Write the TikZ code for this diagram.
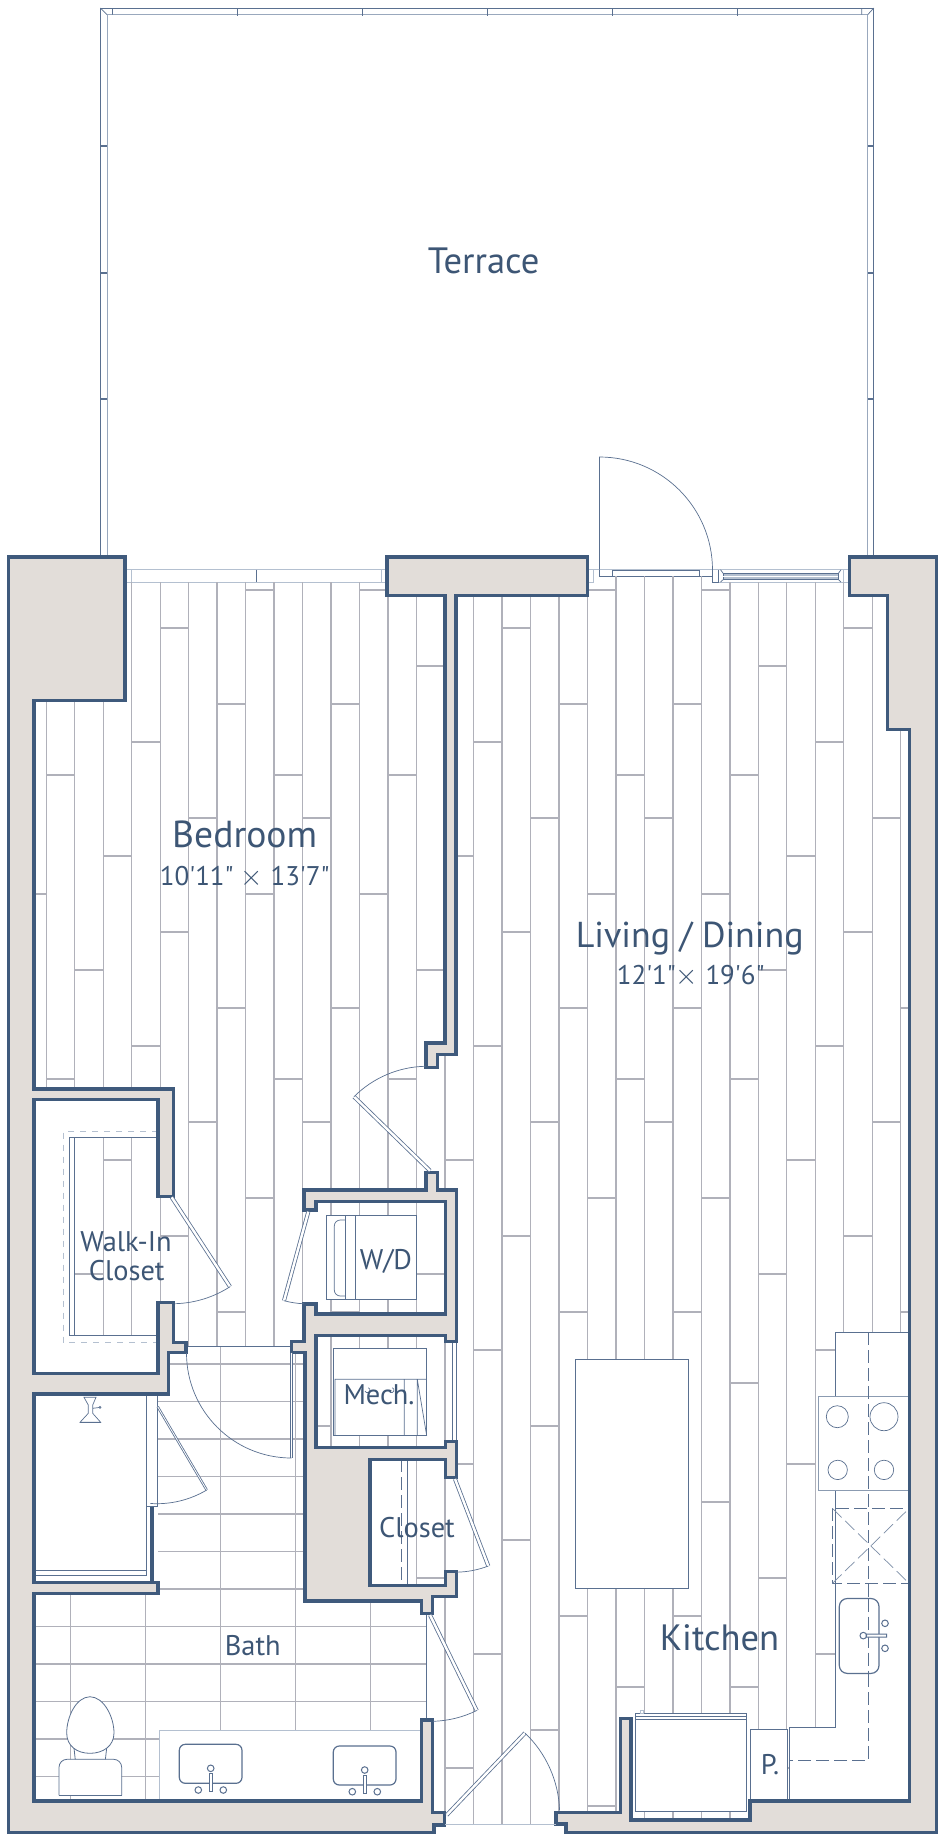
\documentclass[tikz,border=0pt]{standalone}
\usepackage{fontspec}
\setmainfont{PT Sans}[Ligatures=TeXOff]
\definecolor{wallblue}{HTML}{3F5A7C}
\definecolor{wallfill}{HTML}{E2DDD9}
\definecolor{thinblue}{HTML}{5A7090}
\definecolor{paleblue}{HTML}{B4C0D0}
\definecolor{plankgray}{HTML}{B0B1BA}
\definecolor{labelblue}{HTML}{3D5675}
\tikzset{
    wall line/.style={draw=wallblue,fill=wallfill,line width=1.75pt,miter limit=10},
    thin line/.style={draw=thinblue,line width=0.35pt},
    pale line/.style={draw=paleblue,line width=0.7pt},
    plank line/.style={draw=plankgray,line width=0.7pt},
    joint line/.style={draw=plankgray,line width=0.6pt},
    door leaf/.style={draw=thinblue,line width=0.4pt,double=white,double distance=1.2pt},
    fixture line/.style={draw=thinblue,line width=0.4pt,fill=white},
    dash line/.style={draw=thinblue,line width=0.45pt,dash pattern=on 6.5pt off 2.5pt},
    room label/.style={anchor=base,text=labelblue,inner sep=0pt,font=\fontsize{18.3}{20}\selectfont},
    small label/.style={anchor=base,text=labelblue,inner sep=0pt,font=\fontsize{14.2}{16}\selectfont},
    size label/.style={anchor=base,text=labelblue,inner sep=0pt,font=\fontsize{13.5}{15}\selectfont}
    }
\newcommand{\plankfloor}{%
    \foreach \col/\first in {-1/590,0/775,1/666,2/856,3/742,4/628,5/818,6/704,7/590,8/775,
        9/818,10/704,11/590,12/775,13/666,14/856,15/742,16/628,17/818,18/704,19/590,20/775,
        21/818,22/704,23/590,24/775,25/666,26/856,27/742,28/628,29/818,30/704}{
        \pgfmathsetmacro{\xl}{46.3+28.48*\col}
        \pgfmathsetmacro{\xr}{\xl+28.48}
        \draw[plank line] (\xl,560) -- (\xl,1830);
        \foreach \n in {0,...,4}{
            \pgfmathsetmacro{\yj}{\first+304*\n}
            \draw[joint line] (\xl,\yj) -- (\xr,\yj);
        }
    }%
}
\newcommand{\bathoutline}{(187,1346) -- (291.7,1346) -- (291.7,1352.7) -- (305,1352.7) -- (305,1601)
    -- (421.7,1601) -- (421.7,1613) -- (426.7,1613) -- (426.7,1720) -- (421.7,1720) -- (421.7,1801)
    -- (34,1801) -- (34,1593) -- (157.7,1593) -- (157.7,1394) -- (168.3,1394) -- (168.3,1352.7)
    -- (187,1352.7) -- cycle}

\begin{document}
\begin{tikzpicture}[x=0.5pt,y=-0.5pt]
    \useasboundingbox (0,0) rectangle (943,1838);
    \fill[white] (0,0) rectangle (943,1838);
    % Terrace railing
    \draw[thin line] (100.4,557) -- (100.4,8) -- (873.8,8) -- (873.8,557);
    \draw[thin line,draw=paleblue!70!thinblue] (107,557) -- (107,14.6) -- (867.8,14.6) -- (867.8,557);
    \draw[thin line] (100.4,8) -- (107,14.6) (873.8,8) -- (867.8,14.6)
        (112.4,8) -- (112.4,14.6) (861.7,8) -- (861.7,14.6);
    \foreach \xt in {237,362,487,612,737}{
        \draw[thin line,line width=0.5pt] (\xt,8) -- (\xt,16);
    }
    \foreach \yt in {146,273,399}{
        \draw[thin line,line width=0.6pt] (100.4,\yt) -- (107,\yt) (867.8,\yt) -- (873.8,\yt);
    }
    % Windows and terrace door
    \draw[pale line] (126,569.7) -- (849,569.7);
    \draw[pale line,line width=0.45pt] (126,582) -- (386,582)
        (131,569.7) -- (131,582) (381,569.7) -- (381,582) (589,582) -- (593.3,582) -- (593.3,569.7)
        (718,582) -- (849,582) (843.3,569.7) -- (843.3,582);
    \draw[thin line] (256.5,569.7) -- (256.5,582);
    \draw[thin line] (599.5,569.7) -- (599.5,457) arc[start angle=-90,end angle=0,radius=113];
    \draw[thin line] (599.5,569.7) -- (599.5,576) -- (712.3,576) -- (712.3,569.7)
        (712.3,576) -- (712.3,582) -- (718.3,582) -- (718.3,569.7);
    \draw[thin line] (612.3,570.5) rectangle (699.5,576);
    \draw[thin line,fill=paleblue] (723.3,573.5) rectangle (838.3,579.5);
    \draw[draw=white,line width=0.4pt] (723.3,576.5) -- (838.3,576.5);
    \draw[thin line] (720.5,569.7) -- (723.3,573.5) (720.5,582) -- (723.3,579.5)
        (841,569.7) -- (838.3,573.5) (841,582) -- (838.3,579.5);
    % Wood floor
    \begin{scope}
        \clip (34,582) -- (612,582) -- (612,576) -- (703,576) -- (703,582) -- (909,582)
            -- (909,1824) -- (34,1824) -- cycle;
        \plankfloor
    \end{scope}
    % Walk-in shelves
    \fill[white] (34,1099) rectangle (158,1374);
    \begin{scope}
        \clip (74,1137.3) rectangle (158,1335.7);
        \plankfloor
    \end{scope}
    \draw[pale line,line width=0.45pt,dashed] (158,1131.3) -- (63.3,1131.3) -- (63.3,1342.7) -- (158,1342.7);
    \draw[thin line] (158,1137.3) -- (69.3,1137.3) -- (69.3,1335.7) -- (158,1335.7)
        (74,1137.3) -- (74,1335.7);
    % Bath tiles
    \fill[white] \bathoutline;
    \begin{scope}
        \clip \bathoutline;
        \foreach \yk in {1364,1401.5,...,1778}{
            \draw[joint line] (34,\yk) -- (430,\yk);
        }
        \foreach \xk in {70.3,145.3,220.3,295.3,370.3}{
            \draw[joint line] (\xk,1340) -- (\xk,1801);
        }
    \end{scope}
    \draw[thin line] (426.7,1613) -- (426.7,1720) (187,1346) -- (291.7,1346);
    % Shower
    \fill[white] (34,1394) rectangle (157.7,1582);
    \draw[thin line] (146.7,1394) -- (146.7,1575) (157.7,1394) -- (157.7,1506.5) -- (146.7,1506.5)
        (34,1570) -- (146.7,1570) (34,1575) -- (146.7,1575);
    \fill[wallblue] (150,1506.7) rectangle (154.4,1582);
    \draw[thin line] (84,1397.3) -- (96,1397.3) -- (92.7,1405) -- (92.7,1413.3) -- (100.7,1422.3)
        -- (80,1422.3) -- (88.3,1413.3) -- (88.3,1405) -- cycle (92.7,1408.3) -- (99,1407.5);
    \draw[thin line] (100,1407.3) circle[radius=1];
    \draw[thin line,line width=0.7pt] (80,1422.3) -- (100.7,1422.3);
    % Vanity and toilet
    \draw[pale line,line width=0.5pt,fill=white] (159.3,1801) -- (159.3,1730) -- (421.7,1730) -- (421.7,1801) -- cycle;
    \foreach \dx/\dy in {0/0,154/1.7}{
        \begin{scope}[shift={(\dx,\dy)}]
            \draw[thin line,line width=0.6pt,rounded corners=3pt] (179.3,1744.3) rectangle (242,1783.3);
            \draw[thin line,line width=0.5pt,fill=white] (209.3,1773.3) rectangle (212.3,1791.7);
            \draw[thin line,line width=0.5pt,fill=white] (210.7,1768.3) circle[radius=3.3]
                (198.3,1790) circle[radius=3.3] (223.3,1790) circle[radius=3.3];
        \end{scope}
    }
    \draw[fixture line] (74,1748) -- (75.3,1760) -- (105.3,1760) -- (106.7,1748);
    \draw[fixture line,rounded corners=4pt] (59,1795.3) -- (59,1759.3) -- (121.7,1759.3) -- (121.7,1795.3);
    \draw[fixture line,sharp corners] (59,1795.3) -- (121.7,1795.3);
    \draw[fixture line] (90,1696.7) .. controls (76,1697) and (66.7,1717) .. (66.7,1733)
        .. controls (66.7,1746) and (77,1753.3) .. (90,1753.3)
        .. controls (103,1753.3) and (114,1746) .. (114,1733)
        .. controls (114,1717) and (104,1697) .. (90,1696.7) -- cycle;
    % Kitchen
    \draw[fixture line] (835.3,1332) -- (909.3,1332) -- (909.3,1801) -- (789.3,1801) -- (789.3,1727.2)
        -- (835.3,1727.2) -- cycle;
    \draw[fixture line,draw=thinblue!70] (818.3,1396.4) rectangle (909.3,1490);
    \draw[dash line] (868.7,1332) -- (868.7,1760.5) -- (789.3,1760.5);
    \foreach \cx/\cy/\cr in {837.3/1416.7/11,884/1416.7/14,837.7/1469.9/9.7,884/1469.9/9.7}{
        \draw[thin line] (\cx,\cy) circle[radius=\cr];
    }
    \draw[dash line] (832.3,1508.3) rectangle (909.3,1583.5);
    \draw[dash line,line width=0.35pt,draw=thinblue!80] (832.3,1583.5) -- (909.3,1508.3) (832.3,1508.3) -- (909.3,1583.5);
    \draw[thin line,line width=0.6pt,rounded corners=4pt,fill=white] (839.3,1598.5) rectangle (879,1673.4);
    \draw[dash line] (868.7,1598.5) -- (868.7,1673.4);
    \draw[thin line,line width=0.5pt,fill=white] (866,1634) rectangle (886.7,1637)
        (863.3,1635.6) circle[radius=3.3] (885,1623.3) circle[radius=3.3] (885,1648.3) circle[radius=3.3];
    \draw[fixture line] (635.3,1713) rectangle (746.7,1811.3);
    \draw[thin line] (635.3,1716.3) -- (746.7,1716.3) (635.3,1719.4) -- (746.7,1719.4);
    \draw[thin line,draw=paleblue] (640,1713) rectangle (643.5,1710);
    \draw[fixture line] (750.7,1729.6) rectangle (787.7,1801);
    \draw[fixture line] (575.3,1359.4) rectangle (688,1588.3);
    % W/D and Mech
    \draw[fixture line] (326.7,1215.3) rectangle (416.7,1299.3);
    \draw[thin line] (345.7,1215.3) -- (345.7,1299.3) (355.3,1215.3) -- (355.3,1299.3);
    \draw[thin line,rounded corners=3pt] (345.7,1220) -- (334.3,1220) -- (334.3,1296) -- (345.7,1296);
    \draw[fixture line] (333.3,1348.3) rectangle (426.7,1435.7);
    \draw[thin line] (335,1435.7) -- (335,1379.3) -- (426.7,1379.3)
        (404.3,1379.3) -- (404.3,1435.7) (417.3,1379.3) -- (417.3,1435.7) (417.3,1379.3) -- (426.7,1435.7);
    \draw[thin line] (365,1391) arc[start angle=160,end angle=-70,radius=2.6]
        (389,1391) arc[start angle=160,end angle=-70,radius=2.6];
    % Lower closet
    \fill[white] (370,1459) rectangle (407.3,1586);
    \draw[thin line] (407.3,1459) -- (407.3,1586);
    \draw[dash line] (401.7,1459) -- (401.7,1586);
    % Mech frame
    \fill[white] (445.7,1341.7) rectangle (456.7,1441.7);
    \draw[thin line] (452.3,1341.7) -- (452.3,1441.7) (456.7,1341.7) -- (456.7,1441.7);
    % Walls
    \draw[wall line] (8.5,557) -- (125,557) -- (125,700.6) -- (34,700.6) -- (34,1089) -- (173.7,1089)
        -- (173.7,1196.7) -- (158,1196.7) -- (158,1099.7) -- (34,1099.7) -- (34,1373.3) -- (158,1373.3)
        -- (158,1302.7) -- (173.7,1302.7) -- (173.7,1342.7) -- (186,1342.7) -- (186,1352.7) -- (168.3,1352.7)
        -- (168.3,1394) -- (34,1394) -- (34,1582.3) -- (158,1582.3) -- (158,1593.3) -- (34,1593.3)
        -- (34,1801) -- (421.7,1801) -- (421.7,1720) -- (432.7,1720) -- (432.7,1812.3) -- (444.3,1812.3)
        -- (444.3,1825) -- (434,1825) -- (434,1832.7) -- (8.5,1832.7) -- cycle;
    \draw[wall line] (387,557) -- (587.7,557) -- (587.7,595.4) -- (456,595.4) -- (456,1054.6) -- (437.7,1054.6)
        -- (437.7,1067.3) -- (426,1067.3) -- (426,1043) -- (445,1043) -- (445,595.4) -- (387,595.4) -- cycle;
    \draw[wall line] (426,1172.7) -- (437.7,1172.7) -- (437.7,1190) -- (456.7,1190) -- (456.7,1341.7)
        -- (445.7,1341.7) -- (445.7,1335.7) -- (316,1335.7) -- (316,1447.5) -- (445.7,1447.5) -- (445.7,1441.7)
        -- (456.7,1441.7) -- (456.7,1477.7) -- (445.7,1477.7) -- (445.7,1459.3) -- (370,1459.3) -- (370,1585.7)
        -- (445.7,1585.7) -- (445.7,1571.7) -- (456.7,1571.7) -- (456.7,1596.7) -- (432.7,1596.7) -- (432.7,1613.3)
        -- (421.7,1613.3) -- (421.7,1601) -- (305,1601) -- (305,1352.7) -- (291.7,1352.7) -- (291.7,1341.7)
        -- (304,1341.7) -- (304,1304) -- (316,1304) -- (316,1314) -- (445.7,1314) -- (445.7,1201.3) -- (316,1201.3)
        -- (316,1210) -- (304,1210) -- (304,1190) -- (426,1190) -- cycle;
    \draw[wall line] (849.3,557) -- (936.7,557) -- (936.7,1832.7) -- (566,1832.7) -- (566,1824) -- (556,1824)
        -- (556,1812.3) -- (620.7,1812.3) -- (620.7,1718.7) -- (631,1718.7) -- (631,1820) -- (750,1820)
        -- (750,1801) -- (909.3,1801) -- (909.3,729.7) -- (887.7,729.7) -- (887.7,595.4) -- (849.3,595.4) -- cycle;
    \draw[pale line,line width=0.5pt] (445,1824) -- (556,1824);
    % Doors
    \draw[door leaf] (430,1170.7) -- (354,1096.7);
    \draw[thin line] (354,1096.7) arc[start angle=225,end angle=269,radius=104];
    \draw[door leaf] (171.7,1197.3) -- (230,1286.7);
    \draw[thin line] (230,1286.7) arc[start angle=57.1,end angle=88.4,radius=106];
    \draw[door leaf] (308.3,1211.7) -- (284,1300.7);
    \draw[thin line] (284,1300.7) arc[start angle=105,end angle=92.5,radius=93];
    \draw[door leaf] (455,1479) -- (488.3,1566);
    \draw[thin line] (488.3,1566) arc[start angle=69,end angle=89,radius=93];
    \draw[door leaf] (430,1615) -- (476.7,1710.5);
    \draw[thin line] (476.7,1710.5) arc[start angle=63.8,end angle=88.4,radius=105.5];
    \draw[door leaf,double distance=0.8pt] (291.3,1352.7) -- (291.3,1458);
    \draw[thin line] (186.5,1353) arc[start angle=180,end angle=90,radius=105];
    \draw[door leaf,double distance=0.4pt] (157.7,1406.7) -- (206.7,1490);
    \draw[thin line] (206.7,1490) arc[start angle=59.2,end angle=94,radius=97];
    \draw[door leaf] (446.7,1815) -- (525,1733);
    \draw[thin line] (525,1733) arc[start angle=-46.3,end angle=-2,radius=112];
    % Labels
    \node[room label] (terrace) at (483.7,273.5) {Terrace};
    \node[room label,font=\fontsize{18.8}{20}\selectfont] (bedroom) at (244.7,847.5) {Bedroom};
    \node[size label] (bedroomsize) at (244.8,885.5) {10'11" $\times$ 13'7"};
    \node[room label,font=\fontsize{18}{20}\selectfont] (living) at (689.7,947) {Living / Dining};
    \node[size label] (livingsize) at (690.7,984) {12'1"$\times$ 19'6"};
    \node[small label] (walkin) at (126,1251.7) {Walk-In};
    \node[small label] (walkincloset) at (126.7,1280) {Closet};
    \node[small label] (washer) at (386,1269) {W/D};
    \node[small label] (mech) at (379,1404) {Mech.};
    \node[small label] (bath) at (252.8,1655.7) {Bath};
    \node[small label] (closet) at (417,1537.7) {Closet};
    \node[room label] (kitchen) at (719.5,1650) {Kitchen};
    \node[small label] (pantry) at (770,1774) {P.};
\end{tikzpicture}
\end{document}
